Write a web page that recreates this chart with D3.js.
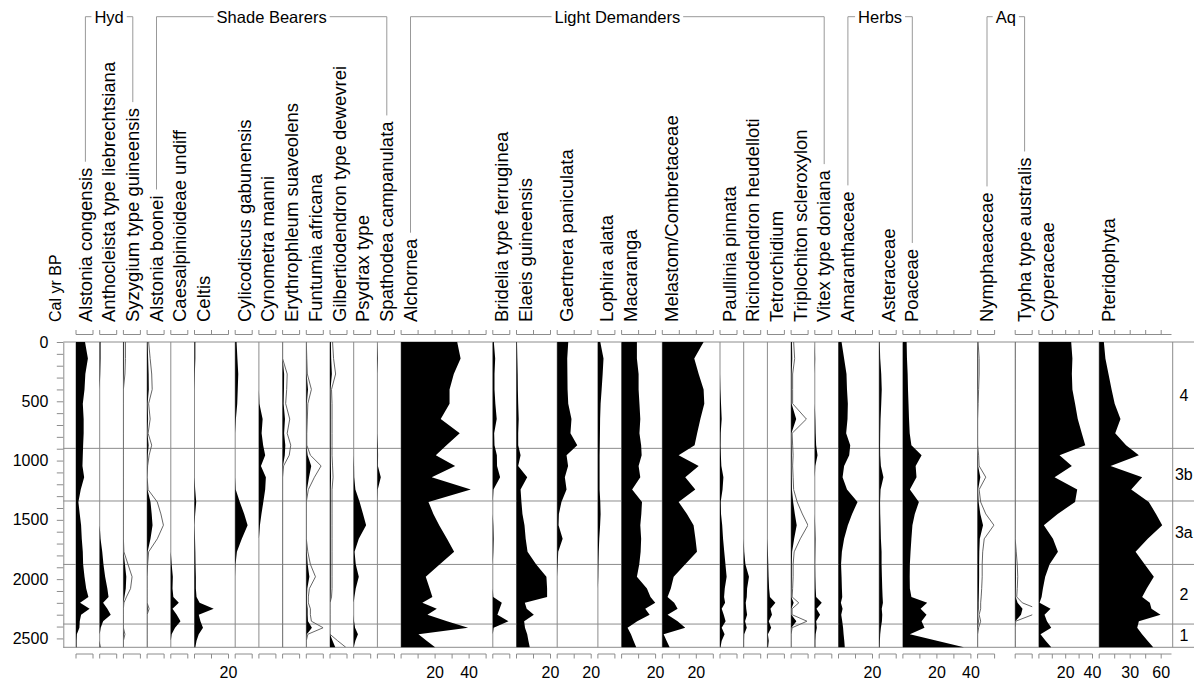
<!DOCTYPE html>
<html>
<head>
<meta charset="utf-8">
<script src="https://cdn.jsdelivr.net/npm/d3@7"></script>
<style>
  body { margin: 0; background: #fff; }
  text { font-family: "Liberation Sans", Arial, Helvetica, sans-serif; fill: #000; }
</style>
</head>
<body>
<svg id="chart" width="1194" height="683"></svg>
<script>
// Sample ages (cal yr BP)
const ages = [0, 140, 270, 400, 520, 650, 770, 870, 955, 1045, 1140, 1245, 1350, 1450, 1545,
  1660, 1770, 1875, 1980, 2080, 2150, 2200, 2250, 2300, 2355, 2410, 2465, 2520, 2575];

// Percentages per taxon, one value per sample age
const alstoniaCongensis = [5.3,7,5.5,5,4,4.5,4.5,4.2,4,3.8,4.8,2.8,1.4,2.2,3,3.4,4,4.2,5,6,7.3,2.4,8,3,2.2,2,0.5,0.3,0.3];
const anthocleista = [0.5,0.5,0.3,0,0,0,0,0,0,0,0,0,0,0,0,0.5,1.5,2.2,3.2,4.5,5.2,2,4.5,6.5,2,0.6,0,0,0.5];
const syzygium = [0.4,0.4,0.3,0,0,0,0,0,0,0,0,0,0,0,0,0,0.1,0.9,1.7,1.4,0.6,0.1,0,0,0,0,0.3,0,0];
const alstoniaBoonei = [0.3,0.6,0.9,1.0,0.3,0.6,0.2,0.9,0.4,0.1,0,0.2,2.0,2.7,3.2,2.0,0.3,0.1,0,0,0,0,0.4,0,0,0,0,0,0];
const caesalpinioideae = [0,0,0,0,0,0,0,0,0,0,0,0,0,0,0,0,0,0.5,1.2,1.0,1.5,4.7,1.0,3.5,5.7,2.5,0.5,0,0];
const celtis = [0.5,0.5,0.2,0,0,0,0,0,0,0,0,0.4,1,0.4,0,0.3,0.5,0.6,0.8,0.8,1.2,3,11.3,2.5,3.5,5,2.5,1.2,0.5];
const cylicodiscus = [0.8,1.3,1.8,1.5,1.2,0.4,0,0,0,0,0,0.3,2.7,5.3,7.3,3.9,1,0.2,0,0,0,0,0,0,0,0,0,0,0];
const cynometra = [0,0,0,0,0.3,2.2,1.6,2.5,3.7,1.2,4.1,3.7,2.6,1.5,0.6,0,0,0,0,0,0,0,0,0,0,0,0,0,0];
const erythrophleum = [0,0,0.9,0.8,0.6,1.4,0.9,1.6,1.3,0.2,0,0,0,0,0,0,0,0,0,0,0,0,0,0,0,0,0,0,0];
const funtumia = [0,0.1,0.2,1.0,0.3,0.2,0.1,0.1,0.8,2.9,1.6,0.4,0,0,0,0,0.3,0.8,1.8,0.6,0.4,0.4,0.8,0.8,1,3.3,0.3,0,0];
const gilbertiodendron = [0.5,0.7,1.1,0.3,0.4,0.4,0.4,0.4,0.4,0.5,0.6,0.4,0.4,0.4,0.4,0.4,0.4,0.4,0.4,0.4,0.3,0,0,0,0,0,0,1.5,3.1];
const psydrax = [0,0,0,0,0,0,0,0,0,0.2,0.3,1,3.5,5.5,7.3,3,0.5,1.2,3,1.2,0.4,0,0,0,0.2,0.8,2.5,1,0];
const spathodea = [0,0.3,0,0,0,0,0,0.3,0.4,0.3,2,0.2,0,0,0,0,0,0,0,0,0,0,0,0,0,0,0,0,0];
const alchornea = [33,35,31,28.5,28.5,23.3,34.5,26.7,20.4,31.8,18,41,16.1,19,22.4,27,31.2,22.8,14.5,16.8,18.4,12.5,21,15.5,27,39.4,10.2,15,20];
const bridelia = [0.6,1.4,1,1,1.5,2.3,0.8,1,2.4,2.5,4.3,0.4,0,0,0.3,0.5,0.3,0,0,0,0.3,5.3,4,2.7,9.2,0.5,0,0,0];
const elaeis = [0.3,0.5,0.7,0.8,1,1.3,1,1,2.4,1,6.3,2.4,2.9,3.5,4.7,5.4,6.5,11.5,17.6,18,18,4.9,6,10.2,4.5,5,6.3,7,7.8];
const gaertnera = [6.5,5.9,6,6.1,6.5,8.4,7.8,11.8,5.5,6.4,4.5,5.5,2.5,1,0.8,3.2,0.6,0.3,0,0,0,0,0,0,0,0,0,0,0];
const lophira = [1.4,3.3,2.8,2.2,1.6,1.3,1.2,1.1,1,1,1,1,1.4,1.6,1.3,0.8,0.5,0.3,0.2,0,0,0,0,0,0,0,0,0,0];
const macaranga = [9,9,10,10,10.5,11,10.5,11.5,11.8,10,11,6.2,12,11.6,11,11.5,11.2,10.4,9,14.9,17,19.8,13.9,16.5,9.2,3.5,5.5,7,8.6];
const melastomCombretaceae = [24.3,18.8,21.4,24.3,24.7,22.4,20.5,19,9.6,21.4,13.5,19.4,9.6,14.5,18.4,19.5,20.4,13.5,6.7,5,3.1,7,9,3.1,9,13.5,0.8,2.5,4.3];
const paullinia = [0,0,0,0.2,0.6,1,0.4,0.3,0.5,0.8,2,1.5,0.4,0.6,1.3,1.8,2.5,3.2,3.9,2.8,2.4,3,1,2.2,3.3,1,2.7,1,0.3];
const ricinodendron = [0,0,0,0,0,0,0,0,0,0,0,0,0,0,0,0,0.3,1,3.1,2,1.8,1.2,1.5,2,0.8,1.8,0.3,0.2,0.2];
const tetrorchidium = [0,0,0,0,0,0,0,0,0,0,0,0,0,0,0,0,0.3,0.5,0.7,1,1.5,4.7,1.8,2.7,0.8,2.2,0.3,0.8,0.4];
const triplochiton = [0.5,0.7,0.3,0.3,0.3,3,0.2,0.3,0.4,0.3,0.4,0.5,1.2,2.2,3.3,1.8,0.6,0.4,0.4,0.3,0.2,1.5,0.2,0.2,3.1,0.2,0,0,0];
const vitex = [0,0.2,0,0,0,0.3,0.5,0.8,1.6,0.3,0,0,0,0,0.2,0.4,0.3,0.2,0.3,0.5,0.8,4.1,1,3.1,0.8,1.2,0.5,0.3,0.3];
const amaranthaceae = [1.8,3.3,4.7,5,5.5,5.3,4.5,6.9,6.3,3.3,2.4,5,11.2,8,5.5,3.3,2,1.5,1.8,2,2.2,1.4,2.4,1.6,2.2,2.7,3,3.4,3.7];
const asteraceae = [0.3,0.6,1.2,1.5,1.2,0.8,0.6,0.5,0.6,1,2.5,0.8,0.5,0.6,0.8,1,1.4,1.4,1.6,1.8,2,2.2,1.5,1.8,1.6,1,0.6,0.4,0.3];
const poaceae = [2.2,2.4,2.8,3,3.3,3.6,4,5,11,7.5,8,4.1,9.4,7,5.6,5,4.5,4.1,4,4.1,5,14.3,10.4,13.9,11,12.7,4.1,20,35.9];
const nymphaeaceae = [0.1,0.3,0.3,0.2,0.1,0,0,0,0.2,0.3,1.6,0.3,0.6,1.6,3.2,1.3,1,0.9,0.9,0.8,0.7,0.6,0.6,0.3,0.6,0.2,0,0,0];
const typha = [0,0,0,0,0,0,0,0,0,0,0,0,0,0,0,0,0.2,0.4,0.5,0.4,0.3,1.4,4.3,3.4,0.1,0,0,0,0];
const cyperaceae = [24.1,25,24.6,25,27,29,32,34.6,15.4,24.6,11.7,28.6,27,14,3.7,10.5,14.2,8,4.7,3,2,0.5,8.7,4.2,6,9.2,1.2,5,9.2];
const pteridophyta = [4.5,6,9,12,15,20.6,15.5,26,38.4,11,41.6,31,48,55,61,47,35.2,44,52.9,46,41.6,49,50.6,59.4,38.4,36.8,41.5,46.8,52.3];

// Ecological groups
const groupLabels = ["Hyd", "Shade Bearers", "Light Demanders", "Herbs", "Aq"];

// Zones
const zoneBounds = [897, 1341, 1876, 2379];
const zoneLabels = ["4", "3b", "3a", "2", "1"];

// Axis ticks
const ageTicks = d3.range(0, 2501, 100);

// Panel table
const panels = [
  { name: "Alstonia congensis", values: alstoniaCongensis, max: 10, group: 0 },
  { name: "Anthocleista type liebrechtsiana", values: anthocleista, max: 10, group: 0 },
  { name: "Syzygium type guineensis", values: syzygium, max: 10, group: 0, exag: true },
  { name: "Alstonia boonei", values: alstoniaBoonei, max: 10, group: 1, exag: true },
  { name: "Caesalpinioideae undiff", values: caesalpinioideae, max: 10, group: 1 },
  { name: "Celtis", values: celtis, max: 20, group: 1 },
  { name: "Cylicodiscus gabunensis", values: cylicodiscus, max: 10, group: 1 },
  { name: "Cynometra manni", values: cynometra, max: 10, group: 1 },
  { name: "Erythrophleum suaveolens", values: erythrophleum, max: 10, group: 1, exag: true },
  { name: "Funtumia africana", values: funtumia, max: 10, group: 1, exag: true },
  { name: "Gilbertiodendron type dewevrei", values: gilbertiodendron, max: 10, group: 1, exag: true },
  { name: "Psydrax type", values: psydrax, max: 10, group: 1 },
  { name: "Spathodea campanulata", values: spathodea, max: 10, group: 1 },
  { name: "Alchornea", values: alchornea, max: 50, group: 2 },
  { name: "Bridelia type ferruginea", values: bridelia, max: 10, group: 2 },
  { name: "Elaeis guineensis", values: elaeis, max: 20, group: 2 },
  { name: "Gaertnera paniculata", values: gaertnera, max: 20, group: 2 },
  { name: "Lophira alata", values: lophira, max: 10, group: 2 },
  { name: "Macaranga", values: macaranga, max: 20, group: 2 },
  { name: "Melastom/Combretaceae", values: melastomCombretaceae, max: 30, group: 2 },
  { name: "Paullinia pinnata", values: paullinia, max: 10, group: 2 },
  { name: "Ricinodendron heudelloti", values: ricinodendron, max: 10, group: 2 },
  { name: "Tetrorchidium", values: tetrorchidium, max: 10, group: 2 },
  { name: "Triplochiton scleroxylon", values: triplochiton, max: 10, group: 2, exag: true },
  { name: "Vitex type doniana", values: vitex, max: 10, group: 2 },
  { name: "Amaranthaceae", values: amaranthaceae, max: 20, group: 3 },
  { name: "Asteraceae", values: asteraceae, max: 10, group: 3 },
  { name: "Poaceae", values: poaceae, max: 40, group: 3 },
  { name: "Nymphaeaceae", values: nymphaeaceae, max: 10, group: 4, exag: true },
  { name: "Typha type australis", values: typha, max: 10, group: 4, exag: true, gapBefore: 13.9 },
  { name: "Cyperaceae", values: cyperaceae, max: 40, unit: 1.34 },
  { name: "Pteridophyta", values: pteridophyta, max: 70, unit: 1.033, tickStep: 15, tickMax: 60, labels: [30, 60] }
];

const EXAG = 3;
const GRAY = "#8c8c8c";
const yTop = 342, yBottom = 647.3, ageMax = 2575;
const axisX = 63.3, zoneX = 1172.7, rightX = 1194;

const svg = d3.select("#chart");
const y = d3.scaleLinear().domain([0, ageMax]).range([yTop, yBottom]);

// horizontal layout of panels
let cursor = 76;
panels.forEach(p => {
  cursor += p.gapBefore || 0;
  const unit = p.unit || 1.7;
  p.x0 = cursor;
  p.width = p.max * unit;
  p.x = d3.scaleLinear().domain([0, p.max]).range([cursor, cursor + p.width]);
  cursor += p.width + 6.7;
});

// frame and zone lines
const hLines = [0, ...zoneBounds, ageMax];
svg.append("g").selectAll("line").data(hLines).join("line")
  .attr("x1", axisX).attr("x2", rightX)
  .attr("y1", d => y(d)).attr("y2", d => y(d))
  .attr("stroke", GRAY).attr("stroke-width", 1);

// zone column
svg.append("line").attr("x1", zoneX).attr("x2", zoneX)
  .attr("y1", y(0)).attr("y2", y(ageMax)).attr("stroke", GRAY);
const zoneEdges = [0, ...zoneBounds, ageMax];
svg.append("g").selectAll("text").data(zoneLabels).join("text")
  .attr("x", (zoneX + rightX) / 2 + 0.5)
  .attr("y", (d, i) => (y(zoneEdges[i]) + y(zoneEdges[i + 1])) / 2)
  .attr("dy", "0.36em")
  .attr("text-anchor", "middle")
  .attr("font-size", 16)
  .text(d => d);

// age axis
const yAxis = d3.axisLeft(y)
  .tickValues(ageTicks)
  .tickSize(6.5)
  .tickSizeOuter(0)
  .tickPadding(8.5)
  .tickFormat(d => d % 500 === 0 ? d : "");
const ax = svg.append("g").attr("transform", `translate(${axisX},0)`).call(yAxis);
ax.select(".domain").attr("stroke", GRAY);
ax.selectAll(".tick line").attr("stroke", GRAY);
ax.selectAll(".tick text").attr("font-size", 16).attr("font-family", null);
ax.attr("font-family", null);

svg.append("text")
  .attr("transform", "translate(61,322) rotate(-90)")
  .attr("font-size", 16)
  .text("Cal yr BP");

// panels
const defs = svg.append("defs");
panels.forEach((p, i) => {
  const g = svg.append("g");
  // panel baseline
  g.append("line").attr("x1", p.x0).attr("x2", p.x0)
    .attr("y1", y(0)).attr("y2", y(ageMax)).attr("stroke", GRAY);

  const pts = ages.map((a, k) => ({ age: a, v: p.values[k] }));

  if (p.exag) {
    defs.append("clipPath").attr("id", "clip" + i)
      .append("rect").attr("x", p.x0).attr("y", y(0))
      .attr("width", p.width).attr("height", y(ageMax) - y(0));
    const line = d3.line().x(d => p.x(d.v * EXAG)).y(d => y(d.age));
    g.append("path").datum(pts).attr("d", line)
      .attr("fill", "none").attr("stroke", "#555").attr("stroke-width", 0.9)
      .attr("clip-path", `url(#clip${i})`);
  }

  const area = d3.area().y(d => y(d.age)).x0(p.x(0)).x1(d => p.x(d.v));
  g.append("path").datum(pts).attr("d", area).attr("fill", "#000");

  // scale brackets top and bottom
  const step = p.tickStep || 10;
  const tMax = p.tickMax !== undefined ? p.tickMax : p.max;
  const tks = d3.range(0, tMax + 0.001, step);
  [[334.5, -4.5], [654, 4.5]].forEach(([yy, dir]) => {
    g.append("line").attr("x1", p.x0).attr("x2", p.x0 + p.width)
      .attr("y1", yy).attr("y2", yy).attr("stroke", GRAY);
    g.selectAll(null).data(tks).join("line")
      .attr("x1", d => p.x(d)).attr("x2", d => p.x(d))
      .attr("y1", yy).attr("y2", yy + dir).attr("stroke", GRAY);
  });
  const labs = p.labels || d3.range(20, p.max + 0.001, 20);
  g.selectAll(null).data(labs).join("text")
    .attr("x", d => p.x(d)).attr("y", 678.3)
    .attr("text-anchor", "middle").attr("font-size", 16)
    .text(d => d);

  // taxon name
  p.label = g.append("text")
    .attr("transform", `translate(${p.x0 + 15.5},322) rotate(-90)`)
    .attr("font-size", 18.5)
    .text(p.name);
});

// group brackets
const gy = 16.7;
groupLabels.forEach((name, gi) => {
  const members = panels.filter(p => p.group === gi);
  const first = members[0], last = members[members.length - 1];
  const xa = first.x0 + 9.4, xb = last.x0 + 9.4;
  const t = svg.append("text").attr("x", (xa + xb) / 2).attr("y", 22.5)
    .attr("text-anchor", "middle").attr("font-size", 16.5).text(name);
  const tw = t.node().getComputedTextLength();
  const mid = (xa + xb) / 2;
  const endA = 322 - first.label.node().getComputedTextLength() - 6;
  const endB = 322 - last.label.node().getComputedTextLength() - 6;
  const path = `M${xa},${endA}V${gy}H${mid - tw / 2 - 3}M${mid + tw / 2 + 3},${gy}H${xb}V${endB}`;
  svg.append("path").attr("d", path).attr("fill", "none").attr("stroke", "#999");
});
</script>
</body>
</html>
